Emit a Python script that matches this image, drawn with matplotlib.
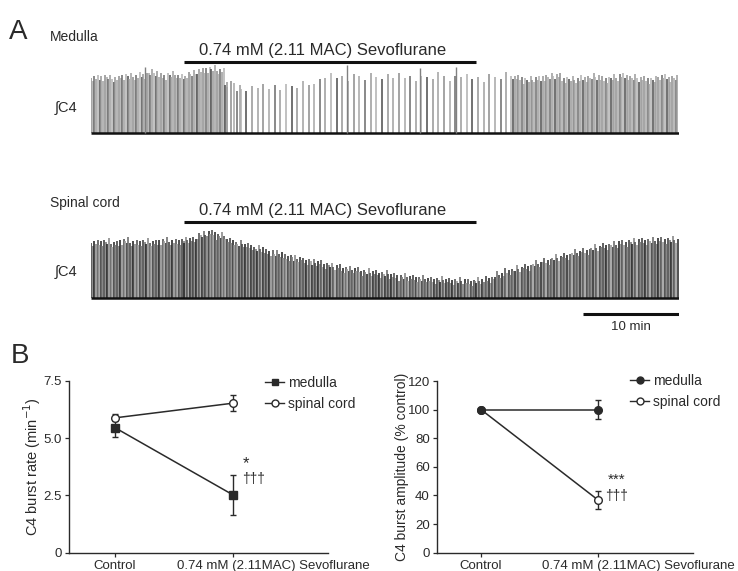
import numpy as np
import matplotlib
matplotlib.use("Agg")
import matplotlib.pyplot as plt
from matplotlib.lines import Line2D
from matplotlib.transforms import ScaledTranslation

plt.rcParams["font.family"] = ["Liberation Sans", "DejaVu Sans"]

W, H = 738, 571

# ---- panel A: integrated C4 traces (time in min, amplitude in arbitrary units) ----
T_END = 61.25
SEVO_ON, SEVO_OFF = 9.7, 40.1
SCALE_BAR = 10  # min

# envelope of burst amplitude, one value per minute (t = 0..61)
MED_AMP = [55, 56, 54, 57, 56, 58, 60, 57, 58, 56, 59, 62, 64, 62, 50, 44,
           45, 46, 46, 47, 47, 47, 48, 52, 56, 57, 56, 57, 55, 56, 57, 56,
           57, 56, 55, 56, 57, 55, 57, 56, 55, 57, 56, 57, 55, 53, 54, 56,
           57, 54, 53, 55, 56, 54, 55, 57, 55, 54, 53, 56, 55, 54]
SPI_AMP = [55, 56, 54, 57, 55, 56, 55, 57, 56, 57, 58, 63, 65, 62, 57, 54,
           52, 49, 46, 44, 41, 39, 37, 35, 33, 31, 29, 28, 26, 25, 24, 22,
           21, 20, 19, 18, 18, 17, 17, 16, 17, 19, 23, 27, 29, 31, 34, 37,
           40, 42, 45, 47, 50, 52, 53, 55, 56, 57, 57, 58, 58, 57]

# burst rate segments: (start, end, bursts per min)
MED_RATE = [(0.0, 14.2, 5.5), (14.2, 15.6, 3.0), (15.6, 43.8, 1.7), (43.8, T_END, 5.5)]
SPI_RATE = [(0.0, 9.7, 5.9), (9.7, 40.1, 6.3), (40.1, T_END, 5.9)]

# occasional taller medullary bursts
MED_TALL_T = [5.6, 26.7, 34.3, 38.0]
MED_TALL_H = [66, 68, 65, 66]

JITTER = [0, -3, 2, -1, 3, -2, 1, -4, 2, 0, -2, 4]

# ---- panel B: summary data (mean, error) ----
GROUPS = ["Control", "0.74 mM (2.11MAC) Sevoflurane"]
RATE_MED = [5.45, 2.52]
RATE_MED_ERR = [0.42, 0.86]
RATE_SPI = [5.88, 6.52]
RATE_SPI_ERR = [0.15, 0.36]
AMP_MED = [100, 100]
AMP_MED_ERR = [0, 6.6]
AMP_SPI = [100, 37]
AMP_SPI_ERR = [0, 6.4]

INK = "#2a2a2a"


def fig_rect(x0, y0, x1, y1):
    return [x0 / W, 1 - y1 / H, (x1 - x0) / W, (y1 - y0) / H]


def ftext(x, y, s, **kw):
    fig.text(x / W, 1 - y / H, s, color=INK, **kw)


def burst_times(segments):
    out = []
    for start, end, rate in segments:
        out.extend(np.arange(start, end, 1.0 / rate))
    return np.array(out)


def draw_trace(ax, segments, env, shades, lw):
    t = burst_times(segments)
    idx = np.clip(t.astype(int), 0, len(env) - 1)
    h = np.array([env[k] + JITTER[i % len(JITTER)] for i, k in enumerate(idx)])
    colors = [shades[i % len(shades)] for i in range(len(t))]
    ax.vlines(t, 0, h, colors=colors, linewidth=lw)
    ax.plot([0, T_END], [0, 0], color="#111111", lw=1.8, solid_capstyle="butt")


def draw_sevo_bar(ax, y_bar, y_text):
    ax.plot([SEVO_ON, SEVO_OFF], [y_bar, y_bar], color="#111111", lw=2.2,
            solid_capstyle="butt")
    ax.text((SEVO_ON + SEVO_OFF) / 2 - 0.8, y_text,
            "0.74 mM (2.11 MAC) Sevoflurane", ha="center", va="center",
            fontsize=12, color=INK)


fig = plt.figure(figsize=(W / 100, H / 100), dpi=100)

# medulla trace
ax_m = fig.add_axes(fig_rect(91, 40, 679, 140))
ax_m.set_xlim(0, T_END)
ax_m.set_ylim(-7, 93)
ax_m.axis("off")
med_shades = ["#8c8c8c", "#a5a5a5", "#6a6a6a", "#9a9a9a", "#b0b0b0", "#4a4a4a", "#959595", "#a0a0a0"]
draw_trace(ax_m, MED_RATE, MED_AMP, med_shades, 1.1)
ax_m.vlines(MED_TALL_T, 0, MED_TALL_H, colors="#808080", linewidth=1.0)
draw_sevo_bar(ax_m, 71, 83)

# spinal cord trace
ax_s = fig.add_axes(fig_rect(91, 205, 679, 335))
ax_s.set_xlim(0, T_END)
ax_s.set_ylim(-37, 93)
ax_s.axis("off")
spi_shades = ["#444444", "#7a7a7a", "#2a2a2a", "#8a8a8a", "#555555", "#9a9a9a", "#333333", "#707070"]
draw_trace(ax_s, SPI_RATE, SPI_AMP, spi_shades, 1.2)
draw_sevo_bar(ax_s, 76, 87)
ax_s.plot([T_END - SCALE_BAR, T_END], [-16, -16], color="#111111", lw=2.2,
          solid_capstyle="butt")
ax_s.text(T_END - SCALE_BAR / 2, -29, "10 min", ha="center", va="center",
          fontsize=9.5, color=INK)

ftext(9, 32, "A", fontsize=20, va="center", ha="left")
ftext(50, 37, "Medulla", fontsize=10, va="center", ha="left")
ftext(55, 108, "\u222bC4", fontsize=10.5, va="center", ha="left")
ftext(50, 203, "Spinal cord", fontsize=10, va="center", ha="left")
ftext(55, 272, "\u222bC4", fontsize=10.5, va="center", ha="left")
ftext(11, 356, "B", fontsize=20, va="center", ha="left")

# ---- panel B ----
x = np.arange(len(GROUPS))
shift = ScaledTranslation(-0.56, 0, fig.dpi_scale_trans)


def style_axes(ax):
    for side in ("top", "right"):
        ax.spines[side].set_visible(False)
    for side in ("left", "bottom"):
        ax.spines[side].set_color(INK)
        ax.spines[side].set_linewidth(1.0)
    ax.tick_params(colors=INK, labelsize=9.5, length=3, width=0.9, pad=2)
    ax.set_xticks(x)
    ax.set_xticklabels(GROUPS, fontsize=9.5)
    sevo = ax.get_xticklabels()[1]
    sevo.set_ha("left")
    sevo.set_transform(sevo.get_transform() + shift)
    ax.patch.set_alpha(0)


def series(ax, y, yerr, marker, fill, label):
    ax.errorbar(x, y, yerr=yerr, color=INK, lw=1.1, marker=marker,
                markersize=5.5, mfc=fill, mec=INK, mew=1.0, capsize=2.5,
                elinewidth=1.0, capthick=1.0, label=label)


ax1 = fig.add_axes(fig_rect(69, 380.7, 328, 552.7))
series(ax1, RATE_SPI, RATE_SPI_ERR, "o", "white", "spinal cord")
series(ax1, RATE_MED, RATE_MED_ERR, "s", INK, "medulla")
ax1.set_xlim(-0.39, 1.805)
ax1.set_ylim(0, 7.5)
ax1.set_yticks([0, 2.5, 5.0, 7.5])
ax1.set_yticklabels(["0", "2.5", "5.0", "7.5"])
ax1.set_ylabel("C4 burst rate (min$^{-1}$)", fontsize=10.5, color=INK)
ax1.yaxis.set_label_coords(-0.10, 0.5)
style_axes(ax1)
ax1.text(1.11, 3.9, "*", ha="center", va="center", fontsize=12, color=INK)
ax1.text(1.17, 3.2, "\u2020\u2020\u2020", ha="center", va="center", fontsize=10, color=INK)

ax2 = fig.add_axes(fig_rect(436.7, 381, 692.7, 552.7))
series(ax2, AMP_SPI, AMP_SPI_ERR, "o", "white", "spinal cord")
series(ax2, AMP_MED, AMP_MED_ERR, "o", INK, "medulla")
ax2.set_xlim(-0.38, 1.814)
ax2.set_ylim(0, 120)
ax2.set_yticks([0, 20, 40, 60, 80, 100, 120])
ax2.set_ylabel("C4 burst amplitude (% control)", fontsize=10, color=INK)
ax2.yaxis.set_label_coords(-0.108, 0.5)
style_axes(ax2)
ax2.text(1.165, 51, "***", ha="center", va="center", fontsize=11, color=INK)
ax2.text(1.165, 39.5, "\u2020\u2020\u2020", ha="center", va="center", fontsize=10, color=INK)

for ax, (lx, ly), mk in ((ax1, (265, 376), "s"), (ax2, (630, 374), "o")):
    handles = [
        Line2D([], [], color=INK, lw=1.0, marker=mk, markersize=5, mfc=INK, mec=INK),
        Line2D([], [], color=INK, lw=1.0, marker="o", markersize=5, mfc="white", mec=INK),
    ]
    ax.legend(handles, ["medulla", "spinal cord"], loc="upper left",
              bbox_to_anchor=(lx / W, 1 - ly / H), bbox_transform=fig.transFigure,
              frameon=False, fontsize=10, handlelength=1.4, handletextpad=0.25,
              borderpad=0, borderaxespad=0, labelspacing=0.5, labelcolor=INK)

fig.savefig("out.png", dpi=100, facecolor="white")
